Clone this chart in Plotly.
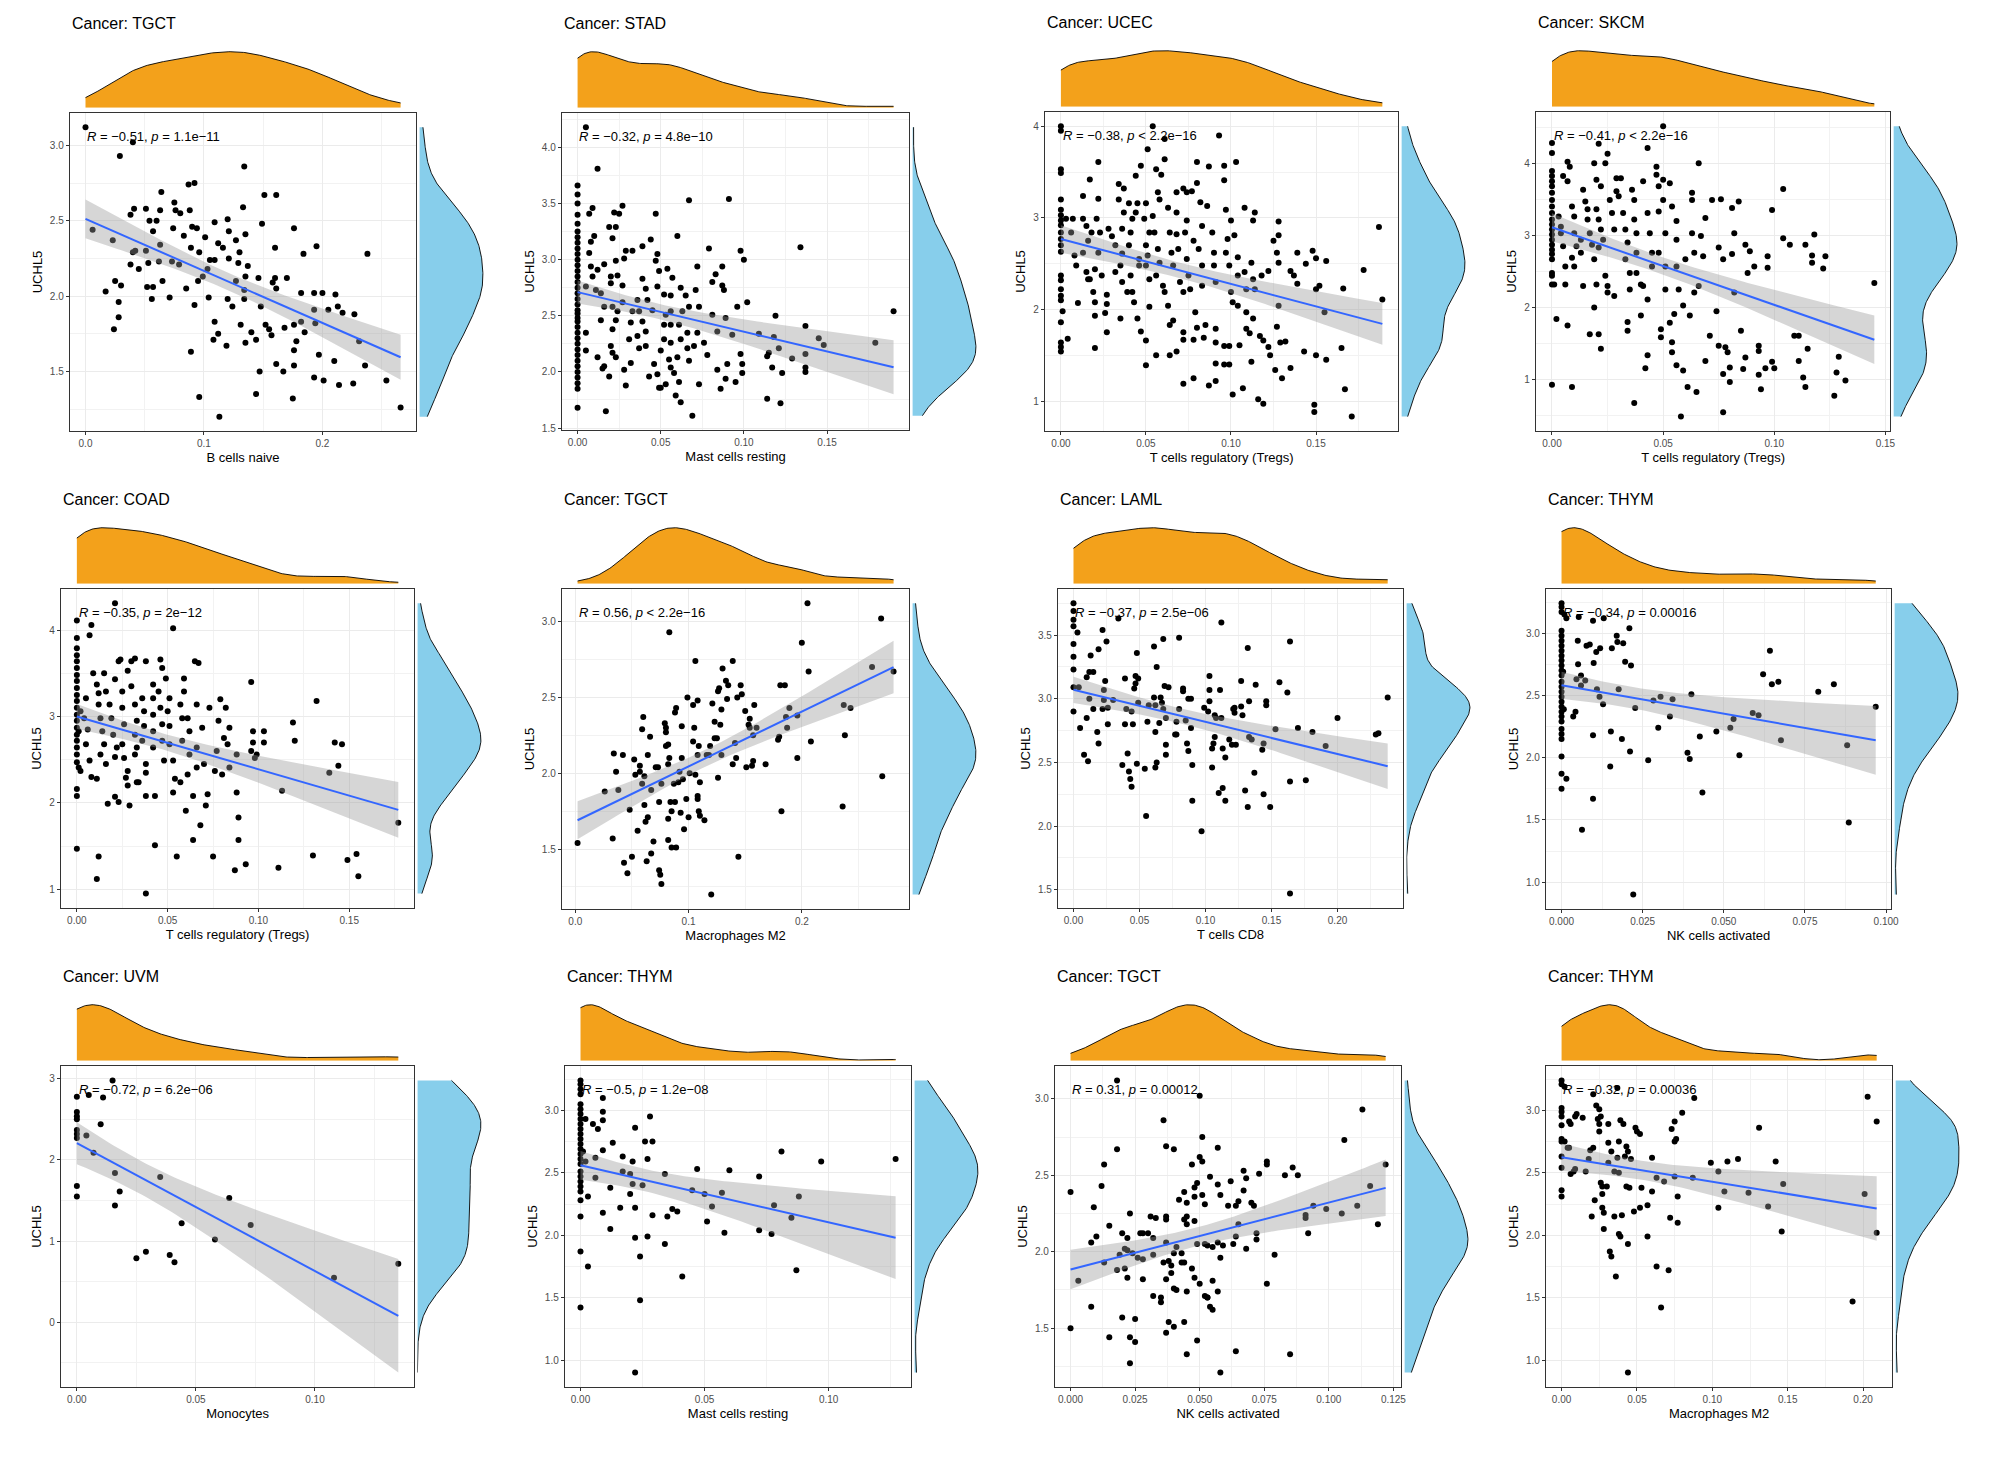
import numpy as np
import plotly.graph_objects as go

# UCHL5 expression vs. immune cell fraction, 12 cancer panels

W, H = 2008, 1458
OFF = 8  # page body margin that the browser adds around the plot div

cancers = ["TGCT", "STAD", "UCEC", "SKCM", "COAD", "TGCT",
           "LAML", "THYM", "UVM", "THYM", "TGCT", "THYM"]
cell_types = ["B cells naive", "Mast cells resting", "T cells regulatory (Tregs)",
              "T cells regulatory (Tregs)", "T cells regulatory (Tregs)", "Macrophages M2",
              "T cells CD8", "NK cells activated", "Monocytes", "Mast cells resting",
              "NK cells activated", "Macrophages M2"]
r_labels = ["−0.51", "−0.32", "−0.38", "−0.41", "−0.35", "0.56",
            "−0.37", "−0.34", "−0.72", "−0.5", "0.31", "−0.32"]
p_labels = ["= 1.1e−11", "= 4.8e−10", "< 2.2e−16", "< 2.2e−16", "= 2e−12", "< 2.2e−16",
            "= 2.5e−06", "= 0.00016", "= 6.2e−06", "= 1.2e−08", "= 0.00012", "= 0.00036"]
x_dtick = [0.1, 0.05, 0.05, 0.05, 0.05, 0.1, 0.05, 0.025, 0.05, 0.05, 0.025, 0.05]
x_fmt = [".1f", ".2f", ".2f", ".2f", ".2f", ".1f", ".2f", ".3f", ".2f", ".2f", ".3f", ".2f"]
y_dtick = [0.5, 0.5, 1, 1, 1, 0.5, 0.5, 0.5, 1, 0.5, 0.5, 0.5]
y_fmt = [".1f", ".1f", "d", "d", "d", ".1f", ".1f", ".1f", "d", ".1f", ".1f", ".1f"]

# (cell fraction, UCHL5) pairs
tgct_bcell = [
    (0.000, 3.12), (0.006, 2.44), (0.023, 2.37), (0.029, 2.93), (0.040, 3.02), (0.017, 2.03),
    (0.025, 2.10), (0.030, 2.07), (0.028, 1.96), (0.028, 1.86), (0.024, 1.78), (0.038, 2.54),
    (0.041, 2.58), (0.040, 2.29), (0.042, 2.30), (0.038, 2.21), (0.045, 2.18), (0.051, 2.58),
    (0.054, 2.50), (0.060, 2.50), (0.057, 2.43), (0.051, 2.30), (0.053, 2.22), (0.052, 2.06),
    (0.057, 2.06), (0.056, 1.98), (0.063, 2.57), (0.064, 2.69), (0.063, 2.34), (0.062, 2.23),
    (0.065, 2.10), (0.071, 1.99), (0.075, 2.62), (0.076, 2.57), (0.080, 2.55), (0.074, 2.45),
    (0.073, 2.23), (0.079, 2.21), (0.083, 2.40), (0.087, 2.74), (0.092, 2.75), (0.088, 2.57),
    (0.090, 2.46), (0.094, 2.45), (0.089, 2.32), (0.096, 2.29), (0.085, 2.05), (0.092, 1.94),
    (0.095, 2.10), (0.099, 2.13), (0.103, 2.18), (0.101, 2.39), (0.104, 1.99), (0.089, 1.63),
    (0.096, 1.33), (0.109, 2.49), (0.112, 2.35), (0.116, 2.32), (0.105, 2.24), (0.109, 2.24),
    (0.120, 2.51), (0.121, 2.43), (0.121, 2.25), (0.120, 1.98), (0.124, 1.93), (0.109, 1.83),
    (0.112, 1.75), (0.108, 1.71), (0.119, 1.67), (0.113, 1.20), (0.134, 2.86), (0.133, 2.59),
    (0.135, 2.41), (0.127, 2.37), (0.130, 2.29), (0.129, 2.22), (0.137, 2.20), (0.135, 2.13),
    (0.127, 2.10), (0.134, 2.04), (0.134, 1.98), (0.131, 1.81), (0.140, 1.76), (0.135, 1.69),
    (0.144, 1.71), (0.149, 2.48), (0.151, 2.67), (0.161, 2.67), (0.160, 2.32), (0.146, 2.12),
    (0.148, 1.93), (0.152, 1.81), (0.155, 1.78), (0.157, 1.74), (0.147, 1.50), (0.144, 1.35),
    (0.158, 2.09), (0.160, 2.12), (0.161, 2.05), (0.170, 2.12), (0.161, 1.55), (0.168, 1.79),
    (0.167, 1.50), (0.176, 2.45), (0.184, 2.28), (0.182, 2.02), (0.176, 1.81), (0.178, 1.70),
    (0.176, 1.64), (0.176, 1.54), (0.175, 1.32), (0.182, 1.83), (0.185, 1.76), (0.195, 2.33),
    (0.193, 2.02), (0.200, 2.02), (0.193, 1.91), (0.194, 1.82), (0.197, 1.61), (0.193, 1.46),
    (0.201, 1.44), (0.211, 2.01), (0.213, 1.93), (0.205, 1.91), (0.217, 1.89), (0.210, 1.57),
    (0.214, 1.41), (0.226, 1.42), (0.227, 1.88), (0.231, 1.70), (0.238, 2.28), (0.236, 1.54),
    (0.254, 1.44), (0.266, 1.26),
]

stad_zero_y = [3.66, 3.58, 3.50, 3.40, 3.32, 3.25, 3.20, 3.15, 3.10, 3.05, 3.00, 2.95, 2.90,
               2.85, 2.80, 2.75, 2.70, 2.65, 2.60, 2.55, 2.52, 2.48, 2.45, 2.40, 2.35, 2.30,
               2.25, 2.20, 2.15, 2.10, 2.05, 2.00, 1.95, 1.90, 1.85, 1.68]
stad_mast = [
    (0.005, 4.18), (0.012, 3.81), (0.009, 3.46), (0.007, 3.41), (0.010, 3.21), (0.008, 3.16),
    (0.007, 3.06), (0.008, 2.94), (0.009, 2.85), (0.012, 2.91), (0.011, 2.73), (0.005, 2.76),
    (0.005, 2.35), (0.005, 2.19), (0.012, 2.13), (0.015, 2.03), (0.017, 1.65), (0.019, 1.96),
    (0.016, 2.05), (0.014, 2.46), (0.016, 2.58), (0.014, 2.70), (0.016, 2.96), (0.019, 3.29),
    (0.023, 3.29), (0.021, 3.19), (0.022, 3.42), (0.025, 3.41), (0.027, 3.48), (0.023, 2.99),
    (0.020, 2.85), (0.024, 2.86), (0.020, 2.79), (0.027, 2.77), (0.028, 3.01), (0.029, 3.08),
    (0.033, 3.08), (0.027, 2.62), (0.021, 2.58), (0.024, 2.54), (0.023, 2.46), (0.021, 2.38),
    (0.020, 2.23), (0.021, 2.17), (0.023, 2.13), (0.028, 2.02), (0.029, 1.88), (0.032, 2.08),
    (0.031, 2.29), (0.032, 2.44), (0.033, 2.54), (0.036, 2.64), (0.037, 2.54), (0.039, 2.83),
    (0.039, 3.12), (0.044, 3.18), (0.047, 3.41), (0.048, 3.05), (0.047, 2.99), (0.049, 2.90),
    (0.048, 2.76), (0.041, 2.74), (0.042, 2.64), (0.045, 2.55), (0.039, 2.45), (0.041, 2.36),
    (0.036, 2.32), (0.037, 2.21), (0.041, 2.23), (0.043, 1.96), (0.046, 2.07), (0.048, 1.98),
    (0.049, 1.86), (0.050, 1.86), (0.053, 1.89), (0.050, 2.19), (0.052, 2.29), (0.052, 2.42),
    (0.053, 2.51), (0.052, 2.69), (0.054, 2.92), (0.057, 2.84), (0.056, 2.68), (0.056, 2.54),
    (0.056, 2.42), (0.056, 2.26), (0.055, 2.11), (0.056, 2.04), (0.058, 1.99), (0.059, 1.79),
    (0.062, 1.73), (0.061, 1.91), (0.060, 2.13), (0.062, 2.29), (0.061, 2.42), (0.063, 2.54),
    (0.062, 2.75), (0.060, 3.21), (0.067, 3.53), (0.065, 2.68), (0.067, 2.58), (0.066, 2.35),
    (0.066, 2.21), (0.067, 2.10), (0.069, 1.61), (0.071, 2.73), (0.072, 2.94), (0.073, 2.58),
    (0.072, 2.35), (0.073, 1.89), (0.070, 2.23), (0.076, 2.26), (0.078, 2.15), (0.079, 3.10),
    (0.081, 2.80), (0.081, 2.51), (0.083, 2.87), (0.084, 2.02), (0.084, 2.36), (0.086, 1.85),
    (0.087, 2.77), (0.087, 2.94), (0.088, 2.73), (0.089, 2.48), (0.089, 1.94), (0.091, 3.54),
    (0.090, 2.07), (0.093, 2.33), (0.095, 1.91), (0.096, 2.58), (0.098, 3.08), (0.100, 3.00),
    (0.098, 2.16), (0.099, 2.07), (0.099, 1.99), (0.102, 2.62), (0.109, 2.34), (0.114, 2.14),
    (0.114, 1.76), (0.115, 2.17), (0.117, 2.04), (0.119, 2.50), (0.118, 2.31), (0.121, 2.21),
    (0.122, 1.72), (0.123, 1.99), (0.129, 2.12), (0.134, 3.11), (0.137, 2.41), (0.137, 2.16),
    (0.137, 2.04), (0.137, 2.00), (0.145, 2.30), (0.148, 2.24), (0.179, 2.26), (0.190, 2.54),
]

ucec_zero_y = [4.00, 3.95, 3.53, 3.49, 3.20, 3.09, 3.03, 2.97, 2.92, 2.84, 2.77, 2.70, 2.63,
               2.37, 2.32, 2.22, 2.15, 2.10, 1.86, 1.64, 1.59, 1.54]
ucec_treg = [
    (0.001, 1.98), (0.004, 1.68), (0.010, 2.07), (0.003, 2.99), (0.007, 2.99), (0.006, 2.84),
    (0.009, 2.48), (0.008, 2.59), (0.013, 3.24), (0.017, 3.42), (0.022, 3.21), (0.022, 3.61),
    (0.013, 2.99), (0.015, 2.91), (0.018, 2.84), (0.016, 2.75), (0.013, 2.62), (0.015, 2.41),
    (0.017, 2.33), (0.020, 2.44), (0.019, 2.19), (0.016, 2.33), (0.021, 2.99), (0.023, 2.84),
    (0.022, 2.62), (0.024, 2.37), (0.020, 2.08), (0.020, 1.93), (0.020, 1.58), (0.027, 2.16),
    (0.027, 2.06), (0.027, 1.75), (0.026, 1.96), (0.028, 2.88), (0.030, 2.80), (0.032, 2.70),
    (0.032, 2.41), (0.035, 1.90), (0.034, 3.37), (0.037, 3.32), (0.034, 3.20), (0.037, 3.06),
    (0.036, 2.88), (0.036, 2.61), (0.035, 2.48), (0.036, 2.30), (0.039, 2.19), (0.040, 3.16),
    (0.042, 2.99), (0.041, 2.84), (0.040, 2.70), (0.041, 2.37), (0.042, 2.19), (0.043, 2.08),
    (0.044, 3.46), (0.047, 3.57), (0.045, 3.16), (0.044, 3.06), (0.046, 2.55), (0.046, 2.48),
    (0.045, 1.90), (0.047, 1.76), (0.050, 3.16), (0.051, 3.75), (0.049, 2.99), (0.052, 2.84),
    (0.050, 2.70), (0.051, 2.59), (0.050, 2.48), (0.052, 2.33), (0.050, 1.66), (0.050, 1.39),
    (0.052, 2.03), (0.054, 4.00), (0.056, 3.53), (0.056, 1.50), (0.057, 3.28), (0.058, 3.20),
    (0.059, 3.47), (0.054, 3.02), (0.055, 2.84), (0.057, 2.66), (0.058, 2.51), (0.056, 2.37),
    (0.060, 2.26), (0.061, 2.19), (0.063, 2.04), (0.061, 3.64), (0.061, 3.86), (0.063, 3.11),
    (0.064, 2.84), (0.065, 2.62), (0.066, 2.48), (0.064, 1.83), (0.064, 1.50), (0.068, 1.54),
    (0.066, 1.88), (0.068, 3.06), (0.068, 2.82), (0.069, 2.66), (0.070, 2.30), (0.068, 3.28),
    (0.072, 3.32), (0.074, 3.28), (0.072, 2.19), (0.072, 1.75), (0.072, 1.67), (0.072, 1.19),
    (0.074, 2.97), (0.073, 2.84), (0.074, 2.55), (0.075, 2.37), (0.076, 2.22), (0.077, 3.29),
    (0.078, 2.75), (0.078, 1.67), (0.078, 1.25), (0.079, 1.97), (0.080, 3.38), (0.080, 3.61),
    (0.082, 3.17), (0.083, 2.91), (0.081, 2.66), (0.083, 2.48), (0.083, 2.26), (0.080, 1.80),
    (0.085, 1.83), (0.084, 1.69), (0.087, 1.17), (0.087, 3.56), (0.086, 3.13), (0.089, 2.84),
    (0.090, 2.62), (0.090, 2.48), (0.091, 2.30), (0.091, 1.79), (0.091, 1.64), (0.091, 1.22),
    (0.091, 1.41), (0.093, 3.90), (0.096, 3.57), (0.096, 3.41), (0.097, 3.09), (0.098, 2.77),
    (0.097, 2.62), (0.099, 2.48), (0.096, 1.40), (0.096, 1.60), (0.099, 1.60), (0.099, 1.40),
    (0.100, 2.19), (0.101, 2.08), (0.101, 1.07), (0.100, 2.97), (0.102, 2.81), (0.103, 3.61),
    (0.104, 2.57), (0.104, 2.37), (0.104, 2.04), (0.105, 1.61), (0.107, 1.14), (0.108, 3.11),
    (0.108, 2.41), (0.109, 2.22), (0.109, 1.97), (0.109, 1.79), (0.111, 1.74), (0.112, 1.43),
    (0.113, 2.97), (0.112, 2.51), (0.113, 2.33), (0.114, 2.22), (0.113, 1.90), (0.114, 3.06),
    (0.116, 1.02), (0.117, 1.71), (0.118, 2.37), (0.119, 0.97), (0.119, 1.66), (0.122, 1.59),
    (0.122, 2.42), (0.123, 1.50), (0.125, 2.75), (0.127, 2.62), (0.128, 2.51), (0.128, 2.81),
    (0.128, 2.96), (0.127, 1.81), (0.128, 2.04), (0.126, 1.34), (0.129, 1.64), (0.132, 1.65),
    (0.130, 1.25), (0.135, 1.36), (0.135, 2.42), (0.137, 2.37), (0.139, 2.62), (0.139, 2.28),
    (0.143, 1.54), (0.144, 2.50), (0.148, 2.64), (0.150, 2.22), (0.150, 2.56), (0.149, 0.96),
    (0.149, 0.88), (0.150, 1.50), (0.152, 2.26), (0.155, 1.97), (0.156, 2.53), (0.156, 1.45),
    (0.166, 2.23), (0.165, 1.58), (0.167, 1.13), (0.171, 0.83), (0.178, 2.43), (0.187, 2.90),
    (0.189, 2.11),
]

skcm_zero_y = [4.28, 4.14, 3.89, 3.82, 3.75, 3.68, 3.59, 3.49, 3.40, 3.31, 3.22, 3.15, 3.08,
               3.01, 2.94, 2.87, 2.80, 2.74, 2.67, 2.48, 2.44, 2.32, 0.93]
skcm_treg = [
    (0.001, 2.32), (0.002, 1.84), (0.007, 1.75), (0.009, 0.90), (0.003, 3.26), (0.004, 3.12),
    (0.004, 3.03), (0.005, 2.85), (0.006, 2.57), (0.006, 2.32), (0.005, 3.82), (0.007, 3.75),
    (0.007, 4.02), (0.008, 3.95), (0.009, 3.40), (0.010, 3.26), (0.010, 3.03), (0.011, 2.85),
    (0.009, 2.69), (0.010, 2.57), (0.013, 2.76), (0.014, 3.63), (0.015, 3.47), (0.016, 3.36),
    (0.016, 3.22), (0.013, 2.94), (0.014, 2.30), (0.017, 3.03), (0.018, 2.87), (0.019, 2.67),
    (0.019, 2.00), (0.017, 1.63), (0.021, 1.63), (0.022, 1.43), (0.019, 4.00), (0.021, 4.27),
    (0.020, 3.77), (0.022, 3.68), (0.020, 3.36), (0.021, 3.22), (0.022, 3.08), (0.023, 2.94),
    (0.021, 2.83), (0.020, 2.32), (0.024, 2.44), (0.024, 4.00), (0.025, 4.13), (0.025, 2.30),
    (0.025, 2.21), (0.026, 3.49), (0.027, 3.31), (0.028, 3.08), (0.029, 3.79), (0.029, 3.61),
    (0.030, 3.54), (0.028, 2.16), (0.031, 3.79), (0.032, 3.31), (0.033, 3.08), (0.034, 2.90),
    (0.033, 2.67), (0.034, 1.68), (0.034, 1.80), (0.035, 2.48), (0.035, 2.25), (0.036, 3.63),
    (0.037, 3.49), (0.037, 0.68), (0.037, 3.22), (0.038, 3.03), (0.038, 2.76), (0.038, 2.48),
    (0.040, 2.32), (0.040, 1.89), (0.041, 3.75), (0.041, 2.30), (0.042, 1.16), (0.043, 4.21),
    (0.043, 2.11), (0.043, 1.34), (0.043, 3.31), (0.044, 3.03), (0.045, 2.76), (0.045, 2.57),
    (0.047, 3.95), (0.047, 3.84), (0.048, 3.68), (0.048, 3.33), (0.048, 2.76), (0.049, 1.70),
    (0.049, 1.59), (0.050, 3.77), (0.050, 4.51), (0.050, 3.49), (0.051, 3.03), (0.051, 2.57),
    (0.051, 2.25), (0.053, 3.72), (0.054, 3.40), (0.054, 1.52), (0.055, 1.91), (0.053, 1.79),
    (0.054, 1.38), (0.056, 1.20), (0.056, 3.20), (0.056, 2.94), (0.056, 2.57), (0.057, 2.25),
    (0.058, 0.49), (0.059, 1.13), (0.059, 2.03), (0.060, 2.67), (0.061, 0.90), (0.062, 1.89),
    (0.063, 3.59), (0.063, 3.49), (0.063, 3.03), (0.064, 2.76), (0.064, 2.21), (0.065, 0.83),
    (0.066, 2.30), (0.066, 4.00), (0.067, 2.99), (0.068, 2.71), (0.069, 1.26), (0.069, 3.24),
    (0.071, 1.61), (0.072, 3.49), (0.075, 2.83), (0.074, 1.95), (0.075, 1.47), (0.076, 3.50),
    (0.077, 1.08), (0.077, 2.67), (0.077, 0.55), (0.078, 1.45), (0.079, 1.38), (0.080, 1.17),
    (0.080, 0.97), (0.081, 3.38), (0.081, 2.74), (0.082, 2.21), (0.082, 3.03), (0.084, 3.47),
    (0.085, 1.68), (0.086, 1.15), (0.087, 2.87), (0.087, 1.31), (0.088, 2.48), (0.089, 2.78),
    (0.091, 2.57), (0.093, 1.47), (0.093, 1.40), (0.093, 1.07), (0.094, 0.87), (0.096, 1.16),
    (0.097, 2.55), (0.097, 2.71), (0.099, 1.25), (0.100, 1.16), (0.099, 3.35), (0.104, 3.64),
    (0.104, 2.96), (0.107, 2.87), (0.109, 1.61), (0.111, 1.61), (0.111, 1.26), (0.113, 1.03),
    (0.114, 2.87), (0.114, 0.90), (0.115, 1.43), (0.118, 3.01), (0.117, 2.72), (0.117, 2.62),
    (0.122, 2.54), (0.123, 2.71), (0.127, 0.78), (0.128, 1.10), (0.129, 1.32), (0.132, 0.99),
    (0.145, 2.34),
]

coad_zero_y = [4.11, 3.91, 3.79, 3.71, 3.64, 3.56, 3.48, 3.41, 3.33, 3.25, 3.18, 3.10, 3.02,
               2.95, 2.87, 2.79, 2.72, 2.64, 2.56, 2.47, 2.16, 2.08, 1.47]
coad_treg = [
    (0.001, 2.83), (0.002, 2.37), (0.001, 2.41), (0.002, 3.06), (0.007, 3.94), (0.008, 4.06),
    (0.005, 3.21), (0.004, 2.98), (0.006, 2.85), (0.005, 2.68), (0.007, 2.49), (0.008, 2.30),
    (0.011, 2.28), (0.012, 1.38), (0.011, 1.12), (0.009, 3.50), (0.011, 3.37), (0.012, 3.27),
    (0.012, 3.14), (0.013, 2.98), (0.014, 2.83), (0.015, 2.68), (0.013, 2.56), (0.016, 2.45),
    (0.015, 3.50), (0.017, 1.99), (0.016, 3.29), (0.018, 3.14), (0.019, 2.98), (0.020, 2.79),
    (0.021, 3.43), (0.022, 2.64), (0.021, 2.53), (0.021, 2.07), (0.023, 2.01), (0.023, 3.64),
    (0.024, 3.66), (0.025, 3.29), (0.025, 3.10), (0.026, 2.91), (0.025, 2.68), (0.026, 2.52),
    (0.028, 3.53), (0.029, 1.97), (0.028, 2.20), (0.028, 2.37), (0.027, 2.29), (0.030, 3.64),
    (0.032, 3.67), (0.030, 3.35), (0.032, 3.14), (0.033, 2.95), (0.032, 2.79), (0.033, 2.64),
    (0.032, 2.56), (0.033, 2.24), (0.034, 2.24), (0.036, 3.21), (0.037, 3.06), (0.037, 2.89),
    (0.036, 2.72), (0.038, 2.45), (0.038, 3.64), (0.038, 0.95), (0.038, 2.08), (0.038, 2.35),
    (0.042, 3.37), (0.042, 3.21), (0.042, 3.02), (0.042, 2.83), (0.042, 2.64), (0.043, 2.08),
    (0.043, 1.51), (0.046, 3.66), (0.047, 3.56), (0.045, 3.29), (0.046, 3.10), (0.047, 2.91),
    (0.047, 2.72), (0.048, 2.49), (0.049, 3.44), (0.051, 3.21), (0.050, 3.06), (0.051, 2.89),
    (0.051, 2.68), (0.053, 4.02), (0.053, 2.49), (0.053, 2.12), (0.054, 2.28), (0.055, 1.38),
    (0.057, 2.24), (0.058, 2.72), (0.058, 2.98), (0.059, 3.44), (0.057, 3.14), (0.059, 3.29),
    (0.060, 1.91), (0.061, 2.33), (0.061, 2.98), (0.062, 2.83), (0.062, 2.56), (0.064, 1.57),
    (0.064, 2.08), (0.065, 3.64), (0.066, 2.64), (0.066, 2.41), (0.067, 3.62), (0.066, 3.14),
    (0.068, 1.74), (0.069, 2.87), (0.070, 2.45), (0.071, 1.97), (0.072, 2.10), (0.073, 3.10),
    (0.075, 1.38), (0.076, 2.37), (0.077, 2.60), (0.078, 2.95), (0.079, 3.20), (0.080, 2.33),
    (0.081, 2.75), (0.082, 3.10), (0.083, 2.68), (0.084, 2.87), (0.084, 2.41), (0.087, 1.22),
    (0.088, 2.12), (0.089, 1.83), (0.089, 1.57), (0.088, 2.56), (0.093, 1.29), (0.096, 3.40),
    (0.096, 2.60), (0.097, 2.83), (0.097, 2.70), (0.099, 2.56), (0.098, 2.52), (0.103, 2.83),
    (0.103, 2.70), (0.111, 1.25), (0.113, 2.14), (0.119, 2.93), (0.120, 2.72), (0.132, 3.18),
    (0.130, 1.39), (0.139, 2.35), (0.142, 2.70), (0.144, 2.43), (0.146, 2.68), (0.149, 1.34),
    (0.154, 1.41), (0.155, 1.15), (0.177, 1.77), (0.021, 4.31),
]

tgct_m2 = [
    (0.002, 1.54), (0.026, 1.88), (0.033, 1.57), (0.034, 2.13), (0.036, 2.01), (0.038, 1.89),
    (0.042, 2.12), (0.043, 1.41), (0.046, 1.34), (0.048, 1.76), (0.050, 1.45), (0.052, 2.09),
    (0.053, 1.99), (0.055, 1.62), (0.057, 2.05), (0.057, 2.01), (0.059, 2.29), (0.060, 2.37),
    (0.059, 1.93), (0.061, 1.98), (0.061, 1.79), (0.062, 1.68), (0.064, 1.71), (0.063, 1.42),
    (0.064, 2.12), (0.066, 2.24), (0.067, 1.89), (0.067, 1.47), (0.069, 1.55), (0.071, 2.04),
    (0.073, 2.04), (0.074, 1.81), (0.074, 1.36), (0.075, 1.33), (0.076, 1.27), (0.076, 1.93),
    (0.079, 2.33), (0.080, 2.30), (0.080, 2.27), (0.080, 2.18), (0.082, 2.19), (0.082, 2.06),
    (0.082, 1.70), (0.082, 1.56), (0.083, 2.10), (0.083, 2.93), (0.084, 1.81), (0.085, 1.75),
    (0.085, 1.51), (0.088, 2.40), (0.089, 2.43), (0.087, 1.93), (0.088, 1.81), (0.089, 1.51),
    (0.091, 1.94), (0.092, 2.01), (0.094, 2.10), (0.093, 1.74), (0.094, 2.31), (0.095, 1.96),
    (0.096, 1.63), (0.099, 2.50), (0.098, 1.83), (0.100, 1.71), (0.101, 2.00), (0.104, 2.45),
    (0.104, 2.21), (0.105, 2.30), (0.106, 2.74), (0.106, 1.99), (0.108, 1.85), (0.108, 1.83),
    (0.108, 2.48), (0.108, 2.12), (0.109, 2.18), (0.109, 1.75), (0.110, 1.72), (0.110, 1.94),
    (0.114, 1.69), (0.116, 2.12), (0.118, 2.12), (0.119, 2.18), (0.120, 1.20), (0.121, 2.46),
    (0.123, 2.34), (0.123, 2.23), (0.125, 2.23), (0.126, 2.54), (0.126, 1.97), (0.127, 2.56),
    (0.128, 2.32), (0.129, 2.12), (0.129, 2.42), (0.130, 2.69), (0.133, 2.61), (0.135, 2.58),
    (0.134, 2.49), (0.139, 2.74), (0.139, 2.06), (0.141, 2.20), (0.142, 2.10), (0.143, 2.50),
    (0.144, 1.45), (0.146, 2.58), (0.147, 2.52), (0.150, 2.41), (0.151, 2.04), (0.153, 2.32),
    (0.154, 2.36), (0.154, 2.30), (0.156, 2.05), (0.157, 2.08), (0.157, 2.25), (0.158, 2.45),
    (0.160, 2.30), (0.168, 2.06), (0.179, 2.22), (0.180, 2.24), (0.181, 2.58), (0.182, 1.75),
    (0.185, 2.58), (0.186, 2.37), (0.187, 2.30), (0.189, 2.43), (0.196, 2.38), (0.196, 2.10),
    (0.200, 2.86), (0.205, 3.12), (0.206, 2.67), (0.208, 2.21), (0.236, 1.78), (0.237, 2.45),
    (0.238, 2.25), (0.243, 2.43), (0.262, 2.70), (0.270, 3.02), (0.271, 1.98), (0.281, 2.67),
]

laml_zero_y = [3.75, 3.69, 3.62, 3.57, 3.43, 3.33, 3.23, 3.09, 2.90]
laml_cd8 = [
    (0.003, 3.52), (0.004, 3.09), (0.005, 2.77), (0.008, 2.56), (0.011, 2.51), (0.012, 3.00),
    (0.013, 3.34), (0.010, 3.17), (0.012, 3.21), (0.015, 3.21), (0.015, 2.92), (0.010, 2.85),
    (0.019, 3.39), (0.018, 2.74), (0.019, 2.65), (0.022, 3.54), (0.025, 3.45), (0.023, 3.07),
    (0.024, 3.14), (0.022, 2.92), (0.023, 2.99), (0.026, 2.93), (0.026, 2.80), (0.030, 2.99),
    (0.034, 3.63), (0.037, 2.48), (0.039, 3.16), (0.040, 2.92), (0.039, 2.80), (0.041, 2.57),
    (0.042, 2.43), (0.043, 2.37), (0.044, 2.31), (0.044, 2.90), (0.045, 2.80), (0.046, 3.08),
    (0.047, 3.12), (0.047, 3.18), (0.048, 3.36), (0.049, 3.16), (0.048, 2.49), (0.049, 2.97),
    (0.054, 2.45), (0.055, 2.08), (0.056, 2.82), (0.057, 2.95), (0.061, 3.41), (0.061, 3.01),
    (0.062, 2.95), (0.062, 2.74), (0.062, 2.46), (0.063, 2.50), (0.063, 3.25), (0.065, 2.81),
    (0.066, 3.01), (0.067, 2.97), (0.068, 2.92), (0.068, 3.47), (0.069, 3.10), (0.070, 2.85),
    (0.070, 2.64), (0.070, 2.56), (0.072, 3.09), (0.077, 2.72), (0.078, 2.72), (0.078, 2.82),
    (0.080, 2.92), (0.080, 3.48), (0.083, 3.08), (0.083, 3.06), (0.085, 2.83), (0.086, 2.65),
    (0.087, 2.59), (0.087, 3.00), (0.089, 3.00), (0.089, 2.77), (0.090, 2.48), (0.090, 2.20),
    (0.097, 1.96), (0.099, 2.93), (0.102, 2.90), (0.103, 3.18), (0.103, 3.07), (0.103, 2.98),
    (0.105, 2.46), (0.105, 2.61), (0.106, 2.65), (0.107, 2.70), (0.107, 2.87), (0.108, 2.85),
    (0.110, 2.26), (0.111, 3.07), (0.112, 3.60), (0.112, 2.85), (0.113, 2.30), (0.113, 2.61),
    (0.115, 2.54), (0.115, 2.20), (0.118, 2.68), (0.120, 2.64), (0.121, 2.92), (0.122, 2.93),
    (0.122, 2.89), (0.123, 2.64), (0.127, 3.14), (0.128, 2.87), (0.127, 2.94), (0.130, 2.28),
    (0.132, 3.40), (0.132, 2.15), (0.133, 2.98), (0.133, 2.70), (0.135, 2.68), (0.137, 2.42),
    (0.138, 3.11), (0.143, 2.60), (0.144, 2.65), (0.144, 2.25), (0.146, 2.98), (0.146, 2.95),
    (0.149, 2.15), (0.153, 2.76), (0.156, 3.13), (0.162, 3.05), (0.164, 3.45), (0.164, 2.35),
    (0.164, 1.47), (0.170, 2.77), (0.176, 2.36), (0.181, 2.74), (0.191, 2.63), (0.200, 2.85),
    (0.229, 2.72), (0.231, 2.73), (0.238, 3.01),
]

thym_nk_zero_y = [3.24, 3.21, 3.17, 3.02, 2.98, 2.94, 2.90, 2.86, 2.82, 2.78, 2.74, 2.70,
                  2.66, 2.61, 2.57, 2.53, 2.49, 2.45, 2.41, 2.37, 2.33, 2.29, 2.23, 2.19,
                  2.15, 2.01, 1.87, 1.75]
thym_nk = [
    (0.0005, 2.69), (0.0007, 2.39), (0.0009, 3.15), (0.0015, 3.12), (0.0015, 1.83),
    (0.0036, 2.33), (0.0043, 2.37), (0.0046, 2.63), (0.0050, 2.94), (0.0053, 3.13),
    (0.0051, 2.75), (0.0060, 2.66), (0.0060, 2.58), (0.0063, 1.42), (0.0073, 2.62),
    (0.0077, 2.90), (0.0087, 2.91), (0.0097, 3.10), (0.0097, 2.18), (0.0097, 1.67),
    (0.0099, 2.76), (0.0107, 2.85), (0.0109, 2.55), (0.0117, 2.49), (0.0119, 2.88),
    (0.0128, 2.43), (0.0130, 3.12), (0.0150, 1.93), (0.0152, 2.21), (0.0155, 2.88),
    (0.0170, 2.98), (0.0172, 2.93), (0.0176, 2.55), (0.0186, 2.15), (0.0190, 2.92),
    (0.0196, 2.77), (0.0209, 3.04), (0.0211, 2.05), (0.0214, 2.74), (0.0221, 0.90),
    (0.0227, 2.40), (0.0267, 1.98), (0.0283, 2.46), (0.0298, 2.24), (0.0305, 2.49),
    (0.0334, 2.33), (0.0342, 2.47), (0.0388, 2.04), (0.0395, 1.99), (0.0400, 2.51),
    (0.0426, 2.17), (0.0434, 1.72), (0.0477, 2.21), (0.0520, 2.24), (0.0530, 2.31),
    (0.0548, 2.02), (0.0589, 2.36), (0.0607, 2.34), (0.0621, 2.67), (0.0642, 2.86),
    (0.0648, 2.59), (0.0668, 2.61), (0.0676, 2.14), (0.0791, 2.53), (0.0839, 2.59),
    (0.0880, 2.10), (0.0885, 1.48), (0.0968, 2.41),
]

uvm_mono = [
    (0.000, 2.78), (0.000, 2.59), (0.000, 2.54), (0.000, 2.50), (0.000, 2.37), (0.000, 2.32),
    (0.000, 2.27), (0.000, 1.68), (0.000, 1.55), (0.005, 2.80), (0.004, 2.30), (0.007, 2.09),
    (0.010, 2.44), (0.011, 2.77), (0.015, 2.98), (0.016, 1.84), (0.016, 1.44), (0.018, 1.61),
    (0.025, 0.79), (0.029, 0.87), (0.035, 1.79), (0.039, 0.83), (0.041, 0.74), (0.044, 1.22),
    (0.058, 1.02), (0.064, 1.53), (0.073, 1.20), (0.108, 0.55), (0.135, 0.72),
]

thym_mast_zero_y = [3.24, 3.21, 3.17, 3.13, 3.05, 3.01, 2.97, 2.93, 2.89, 2.85, 2.81, 2.77,
                    2.73, 2.69, 2.65, 2.61, 2.57, 2.51, 2.47, 2.43, 2.39, 2.35, 2.28, 2.15,
                    1.87, 1.42]
thym_mast = [
    (0.001, 2.67), (0.002, 2.59), (0.002, 2.93), (0.003, 1.75), (0.003, 2.31), (0.005, 2.89),
    (0.006, 2.62), (0.007, 2.85), (0.006, 2.46), (0.009, 2.99), (0.009, 2.92), (0.009, 3.10),
    (0.009, 2.68), (0.009, 2.18), (0.012, 2.38), (0.012, 2.05), (0.013, 2.74), (0.016, 2.22),
    (0.017, 2.63), (0.017, 2.51), (0.020, 2.33), (0.020, 2.49), (0.021, 2.41), (0.021, 2.59),
    (0.022, 2.86), (0.022, 2.22), (0.022, 1.98), (0.024, 1.83), (0.024, 1.48), (0.025, 2.40),
    (0.022, 0.90), (0.027, 2.61), (0.027, 1.99), (0.028, 2.95), (0.026, 2.75), (0.029, 2.75),
    (0.029, 2.16), (0.034, 1.93), (0.034, 2.49), (0.035, 2.15), (0.037, 2.21), (0.039, 2.19),
    (0.041, 1.67), (0.045, 2.36), (0.047, 2.53), (0.050, 2.33), (0.051, 2.11), (0.053, 2.23),
    (0.057, 2.34), (0.058, 2.02), (0.060, 2.52), (0.072, 2.47), (0.072, 2.04), (0.077, 2.01),
    (0.078, 2.24), (0.081, 2.67), (0.085, 2.14), (0.087, 1.72), (0.088, 2.31), (0.097, 2.59),
    (0.127, 2.61),
]

tgct_nk = [
    (0.000, 1.50), (0.000, 2.39), (0.003, 1.81), (0.008, 1.64), (0.008, 2.06), (0.009, 2.29),
    (0.010, 2.10), (0.012, 2.43), (0.013, 2.57), (0.013, 1.93), (0.015, 2.17), (0.015, 1.44),
    (0.018, 2.67), (0.018, 3.12), (0.018, 1.88), (0.019, 1.98), (0.020, 1.57), (0.020, 2.12),
    (0.021, 1.89), (0.021, 2.02), (0.022, 2.01), (0.022, 2.09), (0.022, 1.83), (0.023, 1.44),
    (0.023, 2.25), (0.023, 1.27), (0.024, 1.99), (0.025, 1.41), (0.025, 1.56), (0.026, 1.96),
    (0.027, 2.12), (0.028, 2.12), (0.028, 1.95), (0.028, 1.82), (0.030, 2.12), (0.031, 2.23),
    (0.032, 2.09), (0.032, 1.98), (0.032, 1.71), (0.033, 2.22), (0.035, 1.70), (0.035, 1.67),
    (0.036, 1.93), (0.036, 2.86), (0.037, 2.69), (0.037, 2.23), (0.037, 2.21), (0.037, 2.06),
    (0.037, 1.47), (0.037, 1.82), (0.038, 1.94), (0.038, 1.54), (0.039, 1.86), (0.039, 1.91),
    (0.040, 1.51), (0.040, 2.67), (0.040, 1.99), (0.040, 1.76), (0.041, 1.75), (0.041, 2.03),
    (0.042, 2.34), (0.043, 1.99), (0.043, 1.93), (0.044, 1.93), (0.044, 2.39), (0.044, 2.21),
    (0.044, 1.54), (0.045, 2.32), (0.045, 2.23), (0.045, 2.18), (0.045, 1.74), (0.045, 1.33),
    (0.047, 2.57), (0.047, 1.89), (0.048, 2.20), (0.048, 2.36), (0.048, 1.83), (0.048, 2.42),
    (0.049, 2.45), (0.049, 2.05), (0.049, 1.42), (0.050, 3.02), (0.050, 1.79), (0.050, 2.62),
    (0.051, 2.59), (0.051, 2.75), (0.051, 2.37), (0.052, 1.71), (0.052, 2.31), (0.052, 2.05),
    (0.053, 1.70), (0.053, 2.04), (0.053, 1.70), (0.054, 1.64), (0.054, 2.49), (0.055, 1.81),
    (0.055, 1.62), (0.055, 2.03), (0.057, 2.06), (0.057, 2.44), (0.057, 1.74), (0.057, 2.68),
    (0.058, 1.96), (0.058, 1.21), (0.058, 2.37), (0.059, 2.04), (0.061, 2.30), (0.062, 2.46),
    (0.063, 2.05), (0.064, 2.30), (0.064, 1.35), (0.064, 2.10), (0.065, 2.33), (0.065, 2.18),
    (0.067, 2.53), (0.067, 2.40), (0.068, 2.02), (0.068, 2.48), (0.070, 2.32), (0.071, 2.30),
    (0.072, 2.12), (0.072, 2.08), (0.073, 2.51), (0.076, 1.79), (0.076, 2.57), (0.076, 2.59),
    (0.079, 1.98), (0.083, 2.50), (0.085, 1.33), (0.086, 2.55), (0.088, 2.50), (0.091, 2.24),
    (0.091, 2.22), (0.092, 2.12), (0.094, 2.30), (0.099, 2.28), (0.105, 2.25), (0.106, 2.73),
    (0.111, 2.30), (0.113, 2.93), (0.116, 2.43), (0.119, 2.18), (0.122, 2.57),
]

thym_m2_zero_y = [3.24, 3.21, 3.02, 2.99, 2.95, 2.88, 2.77, 2.75, 2.63, 2.54, 2.36, 2.31]
thym_m2 = [
    (0.002, 3.19), (0.002, 2.75), (0.004, 2.70), (0.005, 2.70), (0.005, 2.91), (0.006, 2.89),
    (0.006, 2.49), (0.008, 2.51), (0.009, 2.95), (0.010, 2.97), (0.009, 2.53), (0.014, 2.94),
    (0.016, 2.51), (0.018, 2.61), (0.019, 2.68), (0.020, 2.15), (0.021, 2.70), (0.021, 3.13),
    (0.022, 2.28), (0.023, 3.04), (0.024, 2.93), (0.025, 2.89), (0.025, 2.83), (0.026, 2.95),
    (0.025, 3.01), (0.026, 2.42), (0.027, 2.39), (0.027, 2.22), (0.028, 2.18), (0.027, 2.33),
    (0.028, 2.05), (0.030, 2.39), (0.031, 2.58), (0.031, 2.89), (0.031, 2.74), (0.032, 1.87),
    (0.033, 1.83), (0.033, 2.67), (0.035, 2.15), (0.035, 2.51), (0.036, 1.67), (0.037, 2.62),
    (0.037, 3.18), (0.038, 2.50), (0.038, 2.75), (0.038, 2.01), (0.039, 1.99), (0.039, 2.92),
    (0.041, 2.89), (0.040, 2.16), (0.042, 2.63), (0.043, 2.39), (0.043, 2.71), (0.044, 2.67),
    (0.044, 1.93), (0.045, 2.38), (0.046, 2.61), (0.048, 2.19), (0.049, 2.86), (0.050, 2.83),
    (0.052, 2.22), (0.053, 2.38), (0.052, 2.81), (0.057, 1.99), (0.057, 2.24), (0.060, 2.62),
    (0.060, 2.35), (0.063, 1.75), (0.063, 2.46), (0.066, 1.42), (0.068, 2.43), (0.071, 1.72),
    (0.072, 2.14), (0.073, 2.85), (0.075, 2.91), (0.075, 2.47), (0.075, 2.75), (0.076, 2.77),
    (0.077, 2.31), (0.077, 2.10), (0.080, 2.98), (0.087, 2.46), (0.088, 3.10), (0.099, 2.58),
    (0.104, 2.22), (0.104, 2.51), (0.108, 2.35), (0.110, 2.59), (0.117, 2.61), (0.124, 2.34),
    (0.131, 2.86), (0.137, 2.23), (0.142, 2.59), (0.146, 2.03), (0.147, 2.41), (0.193, 1.47),
    (0.201, 2.33), (0.203, 3.11), (0.209, 2.91), (0.209, 2.02), (0.044, 0.90),
]

panel_points = [
    tgct_bcell,
    stad_mast + [(0.0, v) for v in stad_zero_y],
    ucec_treg + [(0.0, v) for v in ucec_zero_y],
    skcm_treg + [(0.0, v) for v in skcm_zero_y],
    coad_treg + [(0.0, v) for v in coad_zero_y],
    tgct_m2,
    laml_cd8 + [(0.0, v) for v in laml_zero_y],
    thym_nk + [(0.0, v) for v in thym_nk_zero_y],
    uvm_mono,
    thym_mast + [(0.0, v) for v in thym_mast_zero_y],
    tgct_nk,
    thym_m2 + [(0.0, v) for v in thym_m2_zero_y],
]

# main panel boxes in screen pixels: left, right, top, bottom
boxes = [(70, 418, 113, 432), (564, 913, 113, 431), (1049, 1404, 112, 432), (1542, 1898, 112, 432),
         (61, 416, 590, 910), (564, 913, 590, 911), (1062, 1409, 590, 910), (1552, 1899, 590, 911),
         (61, 416, 1068, 1390), (567, 915, 1068, 1390), (1059, 1407, 1068, 1390), (1552, 1900, 1068, 1390)]

ORANGE = "#F3A11B"
SKY = "#87CEEB"
FONT = "Liberation Sans, Arial, sans-serif"

FW, FH = W - OFF, H - OFF  # figure size inside the page margin


def fx(px):
    return (px - OFF) / FW


def fy(py):
    return 1 - (py - OFF) / FH


def t_975(df):
    # Cornish-Fisher approximation of the t quantile
    z = 1.959964
    g1 = (z ** 3 + z) / 4
    g2 = (5 * z ** 5 + 16 * z ** 3 + 3 * z) / 96
    return z + g1 / df + g2 / df ** 2


def lm_band(x, y, n=80):
    b, a = np.polyfit(x, y, 1)
    xs = np.linspace(x.min(), x.max(), n)
    fit = a + b * xs
    resid = y - (a + b * x)
    s = np.sqrt((resid ** 2).sum() / (len(x) - 2))
    sxx = ((x - x.mean()) ** 2).sum()
    se = s * np.sqrt(1 / len(x) + (xs - x.mean()) ** 2 / sxx)
    t = t_975(len(x) - 2)
    return xs, fit, fit - t * se, fit + t * se


def kde(v, lo, hi, n=256):
    sd = v.std(ddof=1)
    iqr = np.subtract(*np.percentile(v, [75, 25]))
    spread = min(sd, iqr / 1.34) if iqr > 0 else sd
    bw = 0.9 * spread * len(v) ** -0.2
    grid = np.linspace(lo, hi, n)
    d = np.exp(-0.5 * ((grid[:, None] - v[None, :]) / bw) ** 2).sum(1)
    return grid, d / (len(v) * bw * np.sqrt(2 * np.pi))


def sfx(n):
    return "" if n == 1 else str(n)


fig = go.Figure()
layout = {}
annotations = []

for i, pts in enumerate(panel_points):
    x = np.array([p[0] for p in pts])
    y = np.array([p[1] for p in pts])
    xs, fit, lo_b, hi_b = lm_band(x, y)

    x0, x1, y0, y1 = boxes[i]
    km, kt, kr = 3 * i + 1, 3 * i + 2, 3 * i + 3
    xm, ym = "x" + sfx(km), "y" + sfx(km)

    xlo, xhi = x.min(), x.max()
    ylo, yhi = min(y.min(), lo_b.min()), max(y.max(), hi_b.max())
    xpad, ypad = 0.05 * (xhi - xlo), 0.05 * (yhi - ylo)
    xrange_ = [xlo - xpad, xhi + xpad]
    yrange_ = [ylo - ypad, yhi + ypad]

    # scatter, confidence band, fit line
    fig.add_trace(go.Scatter(x=x, y=y, mode="markers", xaxis=xm, yaxis=ym,
                             marker=dict(color="black", size=6, line=dict(width=0)),
                             showlegend=False, hoverinfo="skip"))
    fig.add_trace(go.Scatter(x=np.concatenate([xs, xs[::-1]]),
                             y=np.concatenate([hi_b, lo_b[::-1]]),
                             fill="toself", fillcolor="rgba(153,153,153,0.4)",
                             line=dict(width=0), mode="lines", xaxis=xm, yaxis=ym,
                             showlegend=False, hoverinfo="skip"))
    fig.add_trace(go.Scatter(x=xs, y=fit, mode="lines", xaxis=xm, yaxis=ym,
                             line=dict(color="#3366FF", width=2),
                             showlegend=False, hoverinfo="skip"))

    # marginal densities
    gx, dx = kde(x, xlo, xhi)
    gy, dy = kde(y, ylo, yhi)
    fig.add_trace(go.Scatter(x=gx, y=dx, mode="lines", fill="tozeroy", fillcolor=ORANGE,
                             line=dict(color="black", width=0.9),
                             xaxis="x" + sfx(kt), yaxis="y" + sfx(kt),
                             showlegend=False, hoverinfo="skip"))
    fig.add_trace(go.Scatter(x=dy, y=gy, mode="lines", fill="tozerox", fillcolor=SKY,
                             line=dict(color="black", width=0.9),
                             xaxis="x" + sfx(kr), yaxis="y" + sfx(kr),
                             showlegend=False, hoverinfo="skip"))

    xdom = [fx(x0), fx(x1)]
    ydom = [fy(y1), fy(y0)]
    axis_common = dict(showgrid=True, gridcolor="#EBEBEB", gridwidth=1, zeroline=False,
                       showline=True, mirror=True, linecolor="#333333", linewidth=1,
                       ticks="outside", ticklen=3, tickcolor="#333333", tick0=0,
                       tickfont=dict(size=10, color="#4D4D4D", family=FONT))
    layout["xaxis" + sfx(km)] = dict(
        axis_common, domain=xdom, anchor=ym, range=xrange_, dtick=x_dtick[i],
        tickformat=x_fmt[i],
        minor=dict(dtick=x_dtick[i] / 2, tick0=0, showgrid=True, gridcolor="#F2F2F2", gridwidth=0.6),
        title=dict(text=cell_types[i], standoff=4, font=dict(size=13, color="black", family=FONT)))
    layout["yaxis" + sfx(km)] = dict(
        axis_common, domain=ydom, anchor=xm, range=yrange_, dtick=y_dtick[i],
        tickformat=y_fmt[i],
        minor=dict(dtick=y_dtick[i] / 2, tick0=0, showgrid=True, gridcolor="#F2F2F2", gridwidth=0.6),
        title=dict(text="UCHL5", standoff=4, font=dict(size=13, color="black", family=FONT)))

    # top density axes
    layout["xaxis" + sfx(kt)] = dict(domain=xdom, anchor="y" + sfx(kt), range=xrange_, visible=False)
    layout["yaxis" + sfx(kt)] = dict(domain=[fy(y0 - 5), fy(y0 - 64)],
                                     anchor="x" + sfx(kt), range=[0, dx.max() * 1.05], visible=False)
    # right density axes
    layout["xaxis" + sfx(kr)] = dict(domain=[fx(x1 + 3), fx(x1 + 70)], anchor="y" + sfx(kr),
                                     range=[0, dy.max() * 1.05], visible=False)
    layout["yaxis" + sfx(kr)] = dict(domain=ydom, anchor="x" + sfx(kr), range=yrange_, visible=False)

    annotations.append(dict(
        xref=xm + " domain", yref=ym + " domain", x=0.045, y=0.925,
        xanchor="left", yanchor="middle", showarrow=False,
        text=f"<i>R</i> = {r_labels[i]}, <i>p</i> {p_labels[i]}",
        font=dict(size=13, color="black", family=FONT)))
    annotations.append(dict(
        xref="paper", yref="paper", x=fx(x0), y=fy(y0 - 89),
        xanchor="left", yanchor="middle", showarrow=False,
        text=f"Cancer: {cancers[i]}",
        font=dict(size=16, color="black", family=FONT)))

fig.update_layout(**layout)
fig.update_layout(
    width=FW, height=FH,
    margin=dict(l=0, r=0, t=0, b=0),
    paper_bgcolor="white", plot_bgcolor="white",
    font=dict(family=FONT, color="black"),
    annotations=annotations,
    showlegend=False,
)

fig.write_html("out.html")
